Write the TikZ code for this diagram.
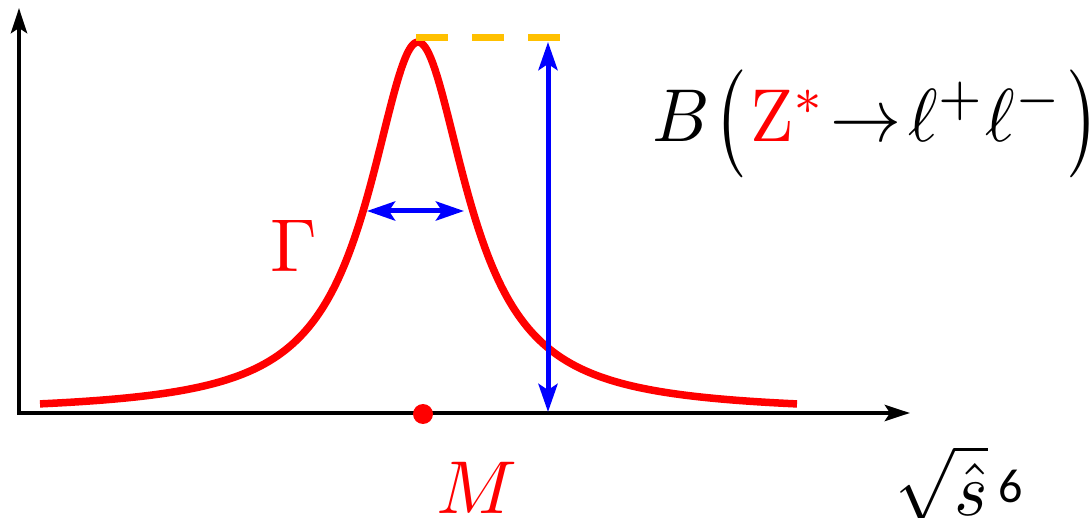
\documentclass[tikz,border=0pt]{standalone}
\usepackage{fontspec}
\newfontfamily\calibri{Carlito}
\usepackage{graphicx}
\usetikzlibrary{arrows.meta}
\definecolor{dashgold}{RGB}{255,192,0}
\tikzset{
  axisline/.style={line width=4.5pt,
    {Stealth[length=25pt,width=16pt,inset=5pt]}-{Stealth[length=25pt,width=16pt,inset=5pt]}},
  peakcurve/.style={red, line width=7.5pt, line join=round},
  bluearrow/.style={blue, line width=5pt,
    {Stealth[length=28pt,width=19pt,inset=6pt]}-{Stealth[length=28pt,width=19pt,inset=6pt]}},
  levelline/.style={dashgold, line width=7.5pt, dash pattern=on 32pt off 24pt},
  mathtext/.style={inner sep=0pt, anchor=base west},
}
\newcommand{\bigmath}[1]{\scalebox{7.5}{$#1$}}
\newcommand{\widemath}[1]{\scalebox{7.1}[7.5]{$#1$}}
\begin{document}
\begin{tikzpicture}[x=1pt,y=-1pt]
\useasboundingbox (0,0) rectangle (1090,518);
% axes
\coordinate (O) at (19,413);
\coordinate (xtip) at (910,413);
\coordinate (ytip) at (19,8);
\draw[axisline] (ytip) -- (O) -- (xtip);
% resonance curve
\draw[peakcurve] plot[domain=40:797, samples=300, smooth] (\x, {413-371/(1+((\x-418)/60)^2)});
% level line at the peak
\coordinate (dl) at (416,37.5);
\coordinate (dr) at (560,37.5);
\draw[levelline] (dl) -- (dr);
% height arrow
\coordinate (vt) at (548,42);
\coordinate (vb) at (548,412);
\draw[bluearrow] (vb) -- (vt);
% width arrow
\coordinate (wl) at (367,211);
\coordinate (wr) at (464,211);
\draw[bluearrow] (wl) -- (wr);
% mass dot
\node[circle, fill=red, minimum size=20pt, inner sep=0pt] (mdot) at (423,414) {};
% labels
\node[mathtext, red] (gamma) at (270,272) {\bigmath{\Gamma}};
\node[mathtext, red] (mlab) at (436,513) {\bigmath{M}};
\node[mathtext] (br) at (652,142) {\widemath{B\mkern1mu\raisebox{-0.6pt}{\scalebox{1}[1.2]{$\bigl($}}\mkern1mu\textcolor{red}{\mathrm{Z}^{*}}\mkern1mu{\rightarrow}\mkern2mu\ell^{+}\ell^{-}\mkern1mu\raisebox{-0.6pt}{\scalebox{1}[1.2]{$\bigr)$}}}};
\node[mathtext] (sq) at (895,515) {\scalebox{7.1}[7.5]{$\sqrt{\hat{s}}$}};
\node[inner sep=0pt, anchor=base west, font=\calibri\fontsize{48}{50}\selectfont] (six) at (998,502) {6};
\end{tikzpicture}
\end{document}
